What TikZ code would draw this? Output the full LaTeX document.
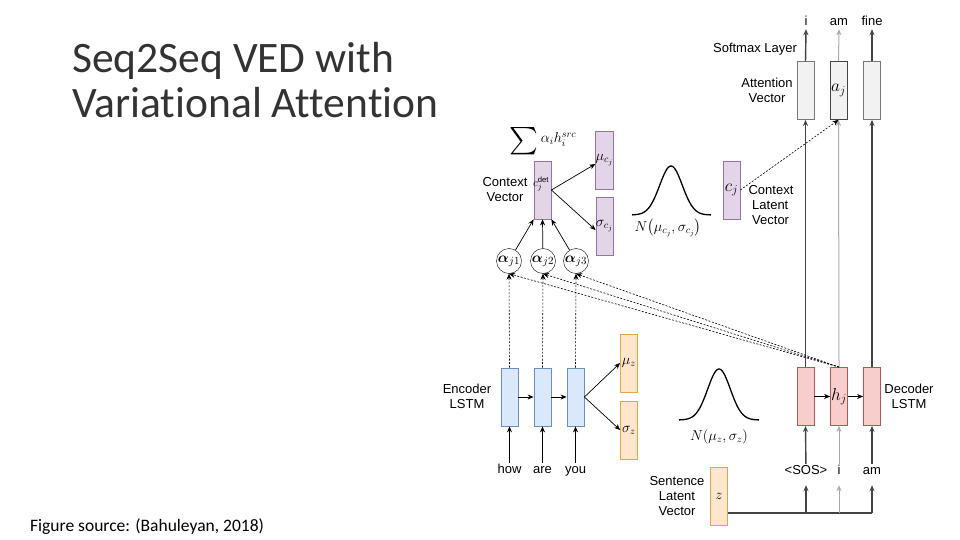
\documentclass[tikz,border=0pt]{standalone}
\usepackage{amsmath}
\usepackage{fontspec}
\setmainfont{Liberation Sans}
\newfontfamily\slidefont[Ligatures=NoCommon]{Carlito}
\usetikzlibrary{arrows.meta}

\definecolor{encfill}{HTML}{DAE8FC}
\definecolor{encline}{HTML}{6C8EBF}
\definecolor{decfill}{HTML}{F8CECC}
\definecolor{decline}{HTML}{B85450}
\definecolor{latfill}{HTML}{FFE6CC}
\definecolor{latline}{HTML}{E0A840}
\definecolor{ctxfill}{HTML}{E1D5E7}
\definecolor{ctxline}{HTML}{9673A6}
\definecolor{attfill}{HTML}{F2F2F2}
\definecolor{attline}{HTML}{777777}
\definecolor{darkline}{HTML}{444444}
\definecolor{lightline}{HTML}{AAAAAA}
\definecolor{titlegray}{HTML}{333333}

\tikzset{
  cell/.style={draw, line width=0.8pt, minimum width=17pt, minimum height=58pt, inner sep=0pt},
  encbox/.style={cell, fill=encfill, draw=encline},
  decbox/.style={cell, fill=decfill, draw=decline},
  latbox/.style={cell, fill=latfill, draw=latline},
  ctxbox/.style={cell, fill=ctxfill, draw=ctxline},
  attbox/.style={cell, fill=attfill, draw=attline},
  lbl/.style={font=\fontsize{13}{15}\selectfont, align=center, inner sep=1pt},
  word/.style={font=\fontsize{13}{15}\selectfont, inner sep=1pt, text height=9.5pt, text depth=2.5pt},
  mathlbl/.style={font=\fontsize{14}{16}\selectfont},
  biglbl/.style={font=\fontsize{17}{19}\selectfont},
  weight/.style={draw, circle, minimum size=25pt, inner sep=0pt, font=\fontsize{15}{16}\selectfont},
  arr/.style={-{Stealth[length=6pt,width=5pt]}, line width=0.7pt},
  dotarr/.style={arr, dash pattern=on 2pt off 1.5pt, line width=0.6pt},
  thickline/.style={line width=1.4pt, draw=darkline},
  thinline/.style={line width=1pt, draw=lightline},
  bell/.style={line width=1.3pt}
}

\begin{document}
\begin{tikzpicture}[x=1pt,y=-1pt]
\useasboundingbox (0,0) rectangle (960,540);

% title and source
\node[anchor=base west, align=left, inner sep=0pt, text=titlegray,
  font=\slidefont\fontsize{43.5}{45}\selectfont] (title) at (72,118)
  {Seq2Seq VED with\\Variational Attention};
\node[anchor=base west, inner sep=0pt, font=\slidefont\fontsize{17.5}{20}\selectfont]
  (source) at (30,531) {Figure source: (Bahuleyan, 2018)};

% encoder
\node[encbox] (e1) at (509.5,397) {};
\node[encbox] (e2) at (542.5,397) {};
\node[encbox] (e3) at (575.5,397) {};
\node[lbl] (enclbl) at (467,396) {Encoder\\LSTM};
\node[word] (w1) at (509.5,470) {how};
\node[word] (w2) at (542.5,470) {are};
\node[word] (w3) at (575.5,470) {you};
\draw[arr] (w1) -- (e1.south);
\draw[arr] (w2) -- (e2.south);
\draw[arr] (w3) -- (e3.south);
\draw[arr] (e1) -- (e2);
\draw[arr] (e2) -- (e3);

% sentence latent
\node[latbox, mathlbl] (muz) at (629,363) {$\mu_z$};
\node[latbox, mathlbl] (sigz) at (629,430) {$\sigma_z$};
\draw[arr] (e3.east) -- (muz.west);
\draw[arr] (e3.east) -- (sigz.west);
\draw[bell] plot[domain=679:759, samples=70] (\x,{420-51*exp(-((\x-719)/16)^2)});
\node[mathlbl] (nz) at (719,437) {$N(\mu_z,\sigma_z)$};
\node[latbox, mathlbl] (z) at (719,496) {$z$};
\node[lbl] (zlbl) at (677,496) {Sentence\\Latent\\Vector};

% decoder
\node[decbox] (d1) at (805.5,396.5) {};
\node[decbox, biglbl] (d2) at (839,396.5) {$h_j$};
\node[decbox] (d3) at (872,396.5) {};
\node[lbl] (declbl) at (909,396) {Decoder\\LSTM};
\draw[arr] (d1) -- (d2);
\draw[arr] (d2) -- (d3);
\node[word] (s1) at (806,471) {<SOS>};
\node[word] (s2) at (839,471) {i};
\node[word] (s3) at (872,471) {am};
\coordinate (b1) at (806,513);
\coordinate (b2) at (839,513);
\coordinate (b3) at (872,513);
\draw[thickline] (z.east |- b1) -- (b3);
\draw[arr, thickline, shorten >=7pt] (b1) -- (s1.south);
\draw[arr, thinline, shorten >=7pt] (b2) -- (s2.south);
\draw[arr, thickline, shorten >=7pt] (b3) -- (s3.south);
\draw[arr, thickline] (s1) -- (d1.south);
\draw[arr, thinline] (s2) -- (d2.south);
\draw[arr, thickline] (s3) -- (d3.south);

% attention and softmax
\node[attbox] (a1) at (805.5,90.5) {};
\node[attbox, draw=darkline, biglbl] (a2) at (838.5,90.5) {$a_j$};
\node[attbox] (a3) at (872,90.5) {};
\node[lbl] (attlbl) at (767,90) {Attention\\Vector};
\node[lbl] (smlbl) at (755,49) {Softmax Layer};
\draw[arr, thickline] (d1.north) -- (a1.south);
\draw[arr, thinline] (d2.north) -- (a2.south);
\draw[arr, thickline] (d3.north) -- (a3.south);
\node[word] (o1) at (806,22) {i};
\node[word] (o2) at (839,22) {am};
\node[word] (o3) at (872,22) {fine};
\draw[arr, thickline] (a1.north) -- (o1.south);
\draw[arr, thinline] (a2.north) -- (o2.south);
\draw[arr, thickline] (a3.north) -- (o3.south);

% context
\node[ctxbox] (cdet) at (542.5,190) {};
\node[font=\fontsize{11}{12}\selectfont, inner sep=0pt] (cdetlbl) at (541,184) {$c_j^{\mathrm{det}}$};
\node[lbl] (ctxlbl) at (505,190) {Context\\Vector};
\node[font=\fontsize{14}{16}\selectfont, inner sep=0pt] (sumlbl) at (543,141)
  {\raisebox{-5pt}{\scalebox{1.9}{$\sum$}}\,$\alpha_i h_i^{src}$};
\node[ctxbox, mathlbl] (muc) at (604.5,160) {$\mu_{c_j}$};
\node[ctxbox, mathlbl] (sigc) at (604.5,226) {$\sigma_{c_j}$};
\draw[arr] (cdet.east) -- ([yshift=-4pt]muc.west);
\draw[arr] (cdet.east) -- ([yshift=-4pt]sigc.west);
\draw[bell] plot[domain=632:711, samples=70] (\x,{215-49*exp(-((\x-671)/16)^2)});
\node[mathlbl] (nc) at (668,228) {$N\big(\mu_{c_j},\sigma_{c_j}\big)$};
\node[ctxbox, biglbl] (cj) at (731.5,190) {$c_j$};
\node[lbl, align=left] (cjlbl) at (771,205) {Context\\\ Latent\\\ Vector};
\draw[dotarr] (cj.east) -- (a2.south);

% attention weights
\node[weight] (al1) at (509,261) {$\boldsymbol{\alpha}_{j1}$};
\node[weight] (al2) at (543,261) {$\boldsymbol{\alpha}_{j2}$};
\node[weight] (al3) at (576,261) {$\boldsymbol{\alpha}_{j3}$};
\draw[arr] (al1) -- (cdet.south west);
\draw[arr] (al2) -- (cdet.south);
\draw[arr] (al3) -- (cdet.south east);
\draw[dotarr] (e1.north) -- (al1.south);
\draw[dotarr] (e2.north) -- (al2.south);
\draw[dotarr] (e3.north) -- (al3.south);
\draw[dotarr] (d2.north) -- (al1.south);
\draw[dotarr] (d2.north) -- (al2.south);
\draw[dotarr] (d2.north) -- (al3.south);

\end{tikzpicture}
\end{document}
